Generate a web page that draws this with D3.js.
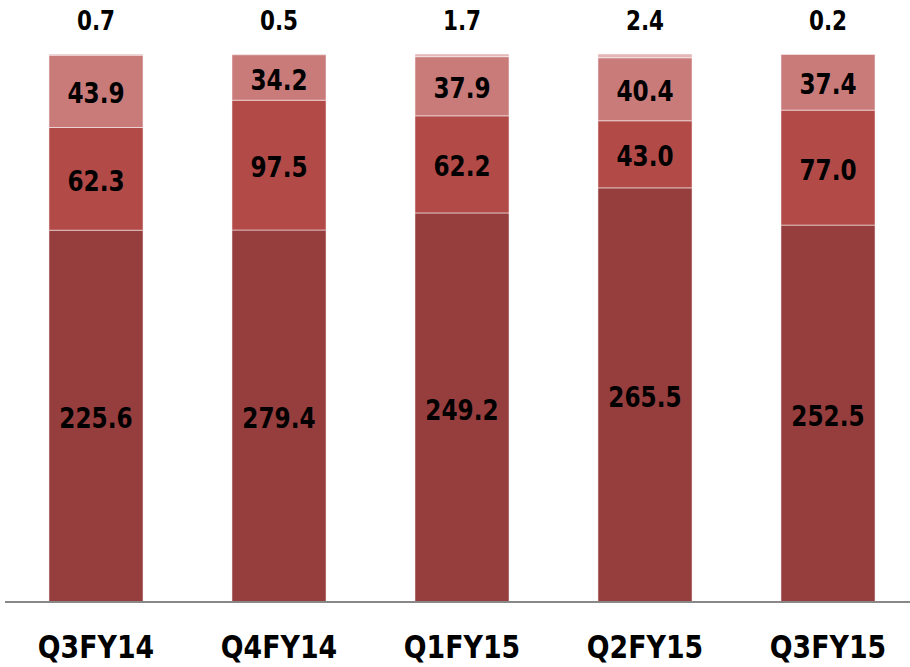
<!DOCTYPE html>
<html>
<head>
<meta charset="utf-8">
<script src="https://cdn.jsdelivr.net/npm/d3@7"></script>
<style>
  body { margin: 0; background: #fff; }
  text { font-family: "Liberation Sans Narrow", "Arial Narrow", "DejaVu Sans Condensed", sans-serif; font-weight: bold; }
</style>
</head>
<body>
<div id="chart"></div>
<script>
// data
var quarters = ["Q3FY14", "Q4FY14", "Q1FY15", "Q2FY15", "Q3FY15"];
var seriesA = [225.6, 279.4, 249.2, 265.5, 252.5];  // bottom
var seriesB = [62.3, 97.5, 62.2, 43.0, 77.0];       // middle
var seriesC = [43.9, 34.2, 37.9, 40.4, 37.4];       // upper
var seriesD = [0.7, 0.5, 1.7, 2.4, 0.2];            // thin top
var keys = ["a", "b", "c", "d"];
var colors = ["#963d3d", "#b24a48", "#c97b7a", "#e4b6b6"];

var svgWidth = 910, svgHeight = 667;
var top0 = 54, bottom0 = 602;

var rows = quarters.map(function(q, i) {
    var tot = seriesA[i] + seriesB[i] + seriesC[i] + seriesD[i];
    return { q: q, a: seriesA[i] / tot, b: seriesB[i] / tot, c: seriesC[i] / tot, d: seriesD[i] / tot,
             raw: { a: seriesA[i], b: seriesB[i], c: seriesC[i], d: seriesD[i] } };
});

var svg = d3.select("#chart").append("svg")
    .attr("width", svgWidth)
    .attr("height", svgHeight);

var x = d3.scaleBand()
    .domain(quarters)
    .range([4.5, 919.5])
    .paddingInner(0.486)
    .paddingOuter(0.243);

var y = d3.scaleLinear()
    .domain([0, 1])
    .range([bottom0, top0]);

var stacked = d3.stack().keys(keys)(rows);

var layers = svg.selectAll("g.layer")
    .data(stacked)
    .enter().append("g")
    .attr("class", "layer")
    .attr("fill", function(d, i) { return colors[i]; });

layers.selectAll("rect")
    .data(function(d) { return d; })
    .enter().append("rect")
    .attr("x", function(d) { return x(d.data.q); })
    .attr("y", function(d) { return y(d[1]); })
    .attr("width", x.bandwidth())
    .attr("height", function(d) { return y(d[0]) - y(d[1]); })
    .attr("stroke", "#fff")
    .attr("stroke-opacity", 0.5)
    .attr("stroke-width", 1);

var sx = 0.92; // squeeze text a bit, the original font is narrower

// labels inside the three big segments
stacked.slice(0, 3).forEach(function(layer) {
    svg.append("g").selectAll("text")
        .data(layer)
        .enter().append("text")
        .attr("transform", function(d) {
            return "translate(" + (x(d.data.q) + x.bandwidth() / 2) + "," + ((y(d[0]) + y(d[1])) / 2 + 2) + ") scale(" + sx + ",1)";
        })
        .attr("dy", "0.36em")
        .attr("text-anchor", "middle")
        .attr("font-size", "28px")
        .attr("fill", "#000")
        .text(function(d) { return d.data.raw[layer.key].toFixed(1); });
});

// thin top segment labels above the bars
svg.append("g").selectAll("text")
    .data(rows)
    .enter().append("text")
    .attr("transform", function(d) { return "translate(" + (x(d.q) + x.bandwidth() / 2) + ",30) scale(" + sx + ",1)"; })
    .attr("text-anchor", "middle")
    .attr("font-size", "26px")
    .attr("fill", "#000")
    .text(function(d) { return d.raw.d.toFixed(1); });

// x axis
var bottomAxis = d3.axisBottom(x).tickSize(0).tickPadding(33);
var axisG = svg.append("g")
    .attr("transform", "translate(0," + bottom0 + ")")
    .call(bottomAxis);
axisG.select(".domain").attr("stroke", "#888").attr("stroke-width", 2).attr("d", "M5,0H910");
axisG.selectAll(".tick text")
    .attr("font-size", "32px")
    .attr("fill", "#000")
    .attr("font-family", "'Liberation Sans Narrow', 'Arial Narrow', 'DejaVu Sans Condensed', sans-serif")
    .attr("font-weight", "bold")
    .attr("transform", "scale(0.93,1)");
</script>
</body>
</html>
